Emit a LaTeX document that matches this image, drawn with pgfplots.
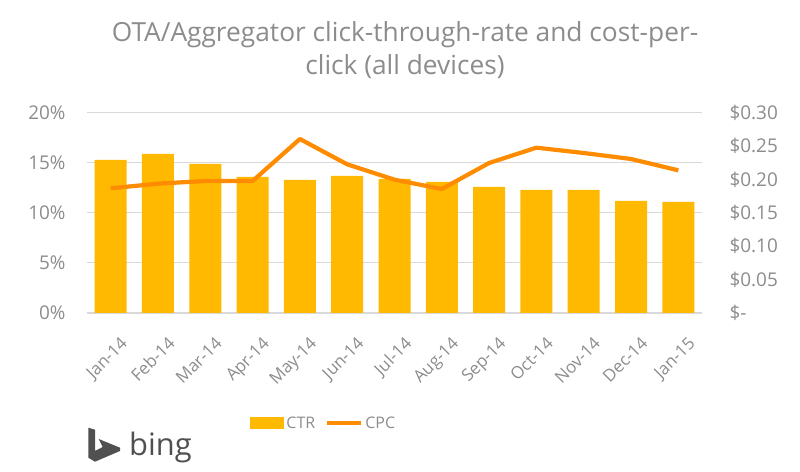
\documentclass[border=0pt]{standalone}
\usepackage{pgfplots}
\pgfplotsset{compat=1.18}
\usepackage{fontspec}
\setmainfont{Open Sans}

\definecolor{ctrcol}{HTML}{FFB900}
\definecolor{cpccol}{HTML}{FF8C00}
\definecolor{txt}{HTML}{8C8C8C}
\definecolor{gridc}{HTML}{D9D9D9}
\definecolor{bingc}{HTML}{505050}

\pgfplotstableread{
x  ctr   cpc
0  15.3  0.187
1  15.9  0.194
2  14.9  0.198
3  13.6  0.198
4  13.3  0.261
5  13.7  0.223
6  13.4  0.200
7  13.1  0.186
8  12.6  0.225
9  12.3  0.248
10 12.3  0.240
11 11.2  0.231
12 11.1  0.214
}\data

\begin{document}
\begin{tikzpicture}
\useasboundingbox (0,0) rectangle (800bp,472bp);

\node[anchor=base, text=txt, font=\fontsize{26.4}{30}\selectfont] at (405bp,430bp) {OTA/Aggregator click-through-rate and cost-per-};
\node[anchor=base, text=txt, font=\fontsize{26.4}{30}\selectfont] at (405bp,397bp) {click (all devices)};

\begin{axis}[
    at={(87bp,159bp)}, anchor=south west,
    scale only axis, width=615bp, height=200bp,
    xmin=-0.5, xmax=12.5, ymin=0, ymax=20,
    xtick=data,
    xticklabels={Jan-14,Feb-14,Mar-14,Apr-14,May-14,Jun-14,Jul-14,Aug-14,Sep-14,Oct-14,Nov-14,Dec-14,Jan-15},
    xticklabel style={xshift=9bp, yshift=-18bp, rotate=45, anchor=north east, font=\fontsize{17}{20}\selectfont, text=txt},
    ytick={0,5,10,15,20},
    yticklabels={0\%,5\%,10\%,15\%,20\%},
    yticklabel style={font=\fontsize{19}{22}\selectfont, text=txt, xshift=-18bp},
    axis x line*=bottom, axis y line*=left,
    x axis line style={draw=gridc, line width=1.2bp, -},
    y axis line style={draw=none},
    major tick length=0pt,
    ymajorgrids, grid style={draw=gridc, line width=1bp},
    legend style={at={(0.385,-0.55)}, anchor=center, draw=none, fill=none,
        font=\fontsize{16}{19}\selectfont, text=txt, legend columns=2,
        /tikz/every even column/.append style={column sep=8bp}},
    legend cell align=left,
]
\addplot[ybar, bar width=32bp, fill=ctrcol, draw=none,
    legend image code/.code={\fill[ctrcol] (0bp,-6bp) rectangle (34bp,6bp);}]
    table[x=x, y=ctr] {\data};
\addlegendentry{CTR}
\addlegendimage{legend image code/.code={\draw[cpccol, line width=4.2bp] (0bp,0bp) -- (34bp,0bp);}}
\addlegendentry{CPC}
\end{axis}

\begin{axis}[
    at={(87bp,159bp)}, anchor=south west,
    scale only axis, width=615bp, height=200bp,
    xmin=-0.5, xmax=12.5, ymin=0, ymax=0.3,
    axis x line=none, axis y line*=right,
    y axis line style={draw=none},
    xtick=\empty,
    ytick={0,0.05,0.1,0.15,0.2,0.25,0.3},
    yticklabels={\$-,\$0.05,\$0.10,\$0.15,\$0.20,\$0.25,\$0.30},
    yticklabel style={font=\fontsize{19}{22}\selectfont, text=txt, anchor=west, xshift=24bp},
    major tick length=0pt,
]
\addplot[cpccol, line width=4.2bp, line join=round] table[x=x, y=cpc] {\data};
\end{axis}

% bing logo
\fill[bingc] (88.3bp,44.3bp) -- (95bp,42.3bp) -- (95bp,21bp) -- (102.7bp,25bp) -- (98.7bp,33bp)
    -- (120bp,24.3bp) -- (120bp,21bp) -- (95bp,10.3bp) -- (88.3bp,14.3bp) -- cycle;
\node[anchor=base west, inner sep=0pt, text=bingc, font=\fontsize{31}{34}\selectfont] at (129bp,17bp) {bing};
\end{tikzpicture}
\end{document}
